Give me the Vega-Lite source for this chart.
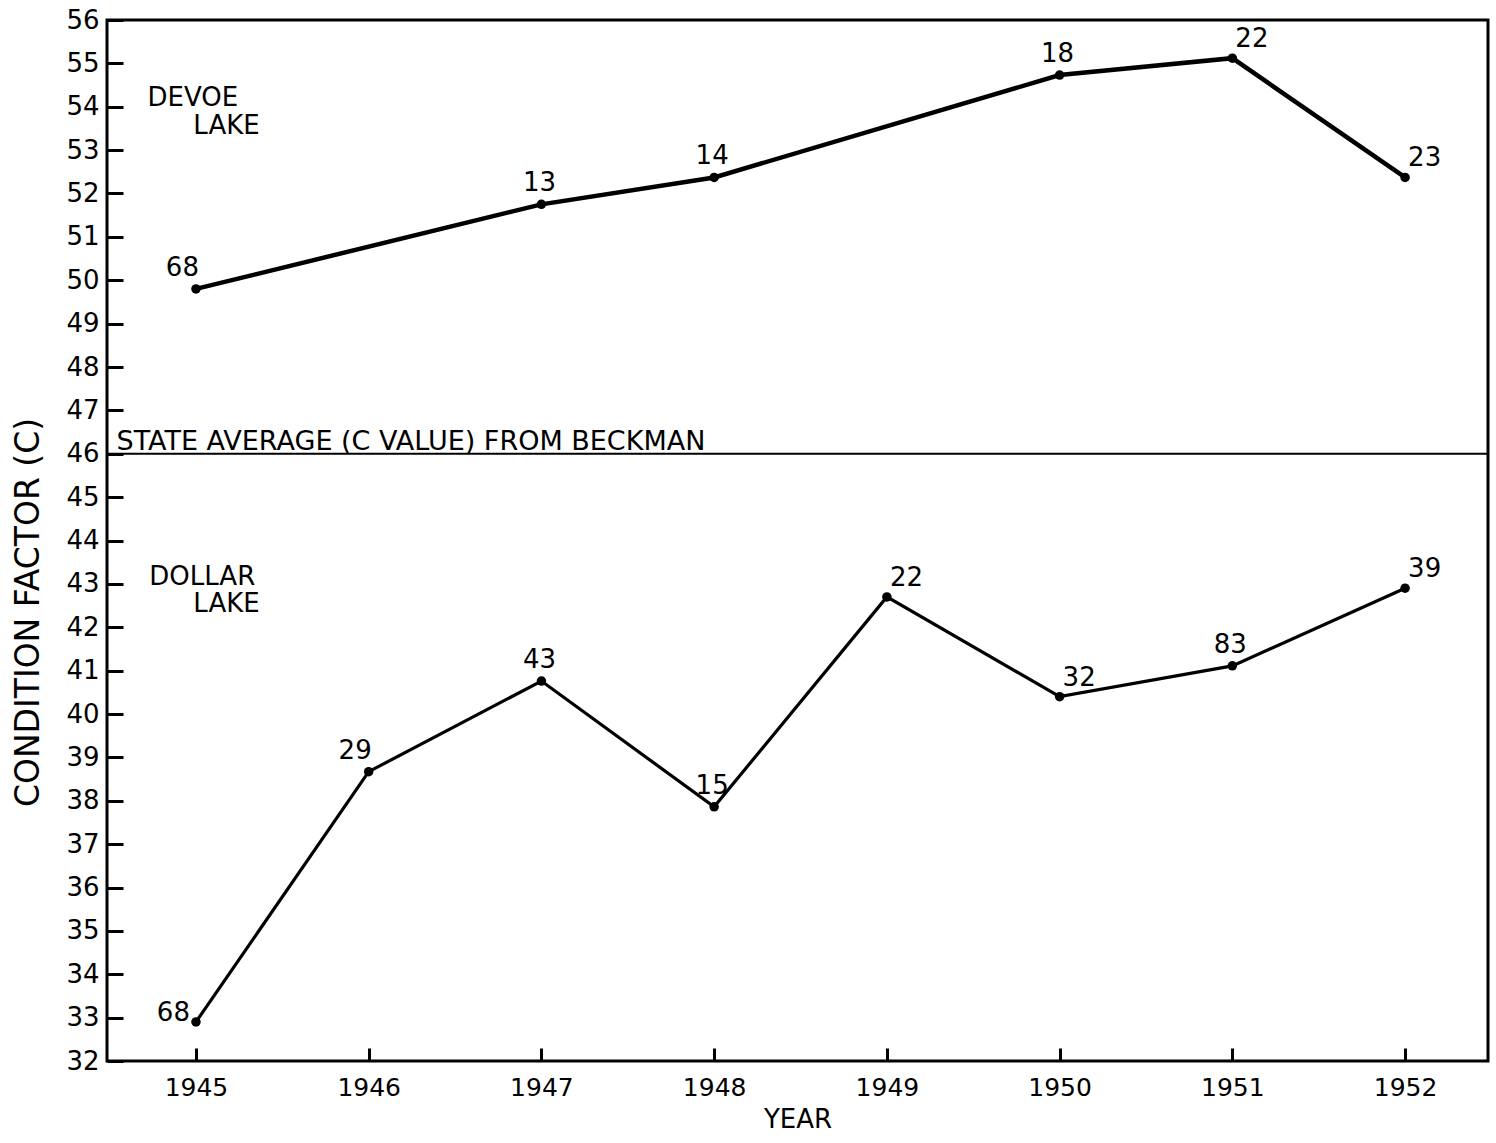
{
  "$schema": "https://vega.github.io/schema/vega-lite/v6.json",
  "width": 1381,
  "height": 1041,
  "autosize": {"type": "none"},
  "padding": {"left": 107, "top": 20, "right": 8, "bottom": 82},
  "background": "white",
  "config": {
    "view": {"stroke": "black", "strokeWidth": 3},
    "font": "DejaVu Sans",
    "text": {"font": "DejaVu Sans", "color": "black"}
  },
  "datasets": {
    "lakes": [
      {"lake": "Devoe", "year": 1945, "c": 49.8, "n": 68},
      {"lake": "Devoe", "year": 1947, "c": 51.75, "n": 13},
      {"lake": "Devoe", "year": 1948, "c": 52.37, "n": 14},
      {"lake": "Devoe", "year": 1950, "c": 54.73, "n": 18},
      {"lake": "Devoe", "year": 1951, "c": 55.12, "n": 22},
      {"lake": "Devoe", "year": 1952, "c": 52.37, "n": 23},
      {"lake": "Dollar", "year": 1945, "c": 32.9, "n": 68},
      {"lake": "Dollar", "year": 1946, "c": 38.67, "n": 29},
      {"lake": "Dollar", "year": 1947, "c": 40.76, "n": 43},
      {"lake": "Dollar", "year": 1948, "c": 37.86, "n": 15},
      {"lake": "Dollar", "year": 1949, "c": 42.7, "n": 22},
      {"lake": "Dollar", "year": 1950, "c": 40.4, "n": 32},
      {"lake": "Dollar", "year": 1951, "c": 41.11, "n": 83},
      {"lake": "Dollar", "year": 1952, "c": 42.9, "n": 39}
    ],
    "annotations": [
      {"year": 1944.72, "c": 54.2, "label": "DEVOE"},
      {"year": 1944.985, "c": 53.55, "label": "LAKE"},
      {"year": 1944.73, "c": 43.16, "label": "DOLLAR"},
      {"year": 1944.985, "c": 42.54, "label": "LAKE"}
    ],
    "state": [
      {"year": 1944.54, "c": 46, "label": "STATE AVERAGE (C VALUE) FROM BECKMAN"}
    ]
  },
  "encoding": {
    "x": {
      "field": "year",
      "type": "quantitative",
      "scale": {"domain": [1944.485, 1952.48], "nice": false, "zero": false},
      "axis": {
        "values": [1945, 1946, 1947, 1948, 1949, 1950, 1951, 1952],
        "format": "d",
        "title": "YEAR",
        "grid": false,
        "domain": false,
        "tickSize": -13,
        "tickWidth": 3,
        "tickColor": "black",
        "labelFontSize": 25,
        "labelColor": "black",
        "labelPadding": 27,
        "labelFlush": false,
        "titleFontSize": 26,
        "titleFontWeight": "normal",
        "titleColor": "black",
        "titleY": 45,
        "titleBaseline": "top"
      }
    },
    "y": {
      "field": "c",
      "type": "quantitative",
      "scale": {"domain": [32, 56], "nice": false, "zero": false},
      "axis": {
        "values": [32, 33, 34, 35, 36, 37, 38, 39, 40, 41, 42, 43, 44, 45, 46, 47, 48, 49, 50, 51, 52, 53, 54, 55, 56],
        "title": "CONDITION FACTOR (C)",
        "grid": false,
        "domain": false,
        "tickSize": -16,
        "tickWidth": 3,
        "tickColor": "black",
        "labelFontSize": 26,
        "labelColor": "black",
        "labelPadding": 24,
        "labelFlush": false,
        "titleFontSize": 33,
        "titleFontWeight": "normal",
        "titleColor": "black",
        "titleX": -79,
        "titleY": 592,
        "titleBaseline": "middle"
      }
    }
  },
  "layer": [
    {
      "data": {"name": "state"},
      "mark": {"type": "rule", "color": "black", "strokeWidth": 2},
      "encoding": {"x": {"datum": 1944.485, "type": "quantitative"}, "x2": {"datum": 1952.48}}
    },
    {
      "data": {"name": "state"},
      "mark": {"type": "text", "align": "left", "baseline": "alphabetic", "dy": -4, "fontSize": 27},
      "encoding": {"text": {"field": "label"}}
    },
    {
      "data": {"name": "annotations"},
      "mark": {"type": "text", "align": "left", "baseline": "middle", "fontSize": 26},
      "encoding": {"text": {"field": "label"}}
    },
    {
      "data": {"name": "lakes"},
      "transform": [{"filter": "datum.lake == 'Devoe'"}],
      "mark": {"type": "line", "color": "black", "strokeWidth": 4.5},
      "encoding": {}
    },
    {
      "data": {"name": "lakes"},
      "transform": [{"filter": "datum.lake == 'Dollar'"}],
      "mark": {"type": "line", "color": "black", "strokeWidth": 3.2},
      "encoding": {}
    },
    {
      "data": {"name": "lakes"},
      "mark": {"type": "point", "filled": true, "color": "black", "size": 90, "opacity": 1},
      "encoding": {}
    },
    {
      "data": {"name": "lakes"},
      "transform": [{"filter": "(datum.lake == 'Devoe' && (datum.year == 1947 || datum.year == 1948 || datum.year == 1950)) || (datum.lake == 'Dollar' && (datum.year == 1947 || datum.year == 1948 || datum.year == 1951))"}],
      "mark": {"type": "text", "align": "center", "baseline": "alphabetic", "dy": -13, "dx": -2, "fontSize": 26},
      "encoding": {"text": {"field": "n"}}
    },
    {
      "data": {"name": "lakes"},
      "transform": [{"filter": "(datum.lake == 'Devoe' && (datum.year == 1951 || datum.year == 1952)) || (datum.lake == 'Dollar' && (datum.year == 1949 || datum.year == 1950 || datum.year == 1952))"}],
      "mark": {"type": "text", "align": "left", "baseline": "alphabetic", "dy": -11, "dx": 3, "fontSize": 26},
      "encoding": {"text": {"field": "n"}}
    },
    {
      "data": {"name": "lakes"},
      "transform": [{"filter": "(datum.lake == 'Devoe' && datum.year == 1945) || (datum.lake == 'Dollar' && datum.year == 1946)"}],
      "mark": {"type": "text", "align": "right", "baseline": "alphabetic", "dy": -13, "dx": 3, "fontSize": 26},
      "encoding": {"text": {"field": "n"}}
    },
    {
      "data": {"name": "lakes"},
      "transform": [{"filter": "datum.lake == 'Dollar' && datum.year == 1945"}],
      "mark": {"type": "text", "align": "right", "baseline": "alphabetic", "dy": -1, "dx": -6, "fontSize": 26},
      "encoding": {"text": {"field": "n"}}
    }
  ]
}
